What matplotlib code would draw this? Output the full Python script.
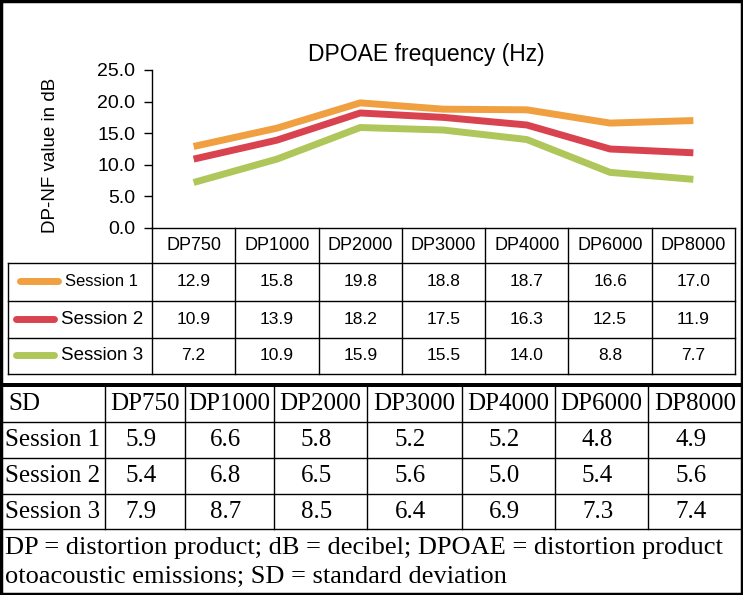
import numpy as np
import matplotlib
matplotlib.use('Agg')
import matplotlib.pyplot as plt

# frequencies and mean DP-NF values (dB) per session
freqs = ['DP750', 'DP1000', 'DP2000', 'DP3000', 'DP4000', 'DP6000', 'DP8000']
sessions = ['Session 1', 'Session 2', 'Session 3']
s1_mean = [12.9, 15.8, 19.8, 18.8, 18.7, 16.6, 17.0]
s2_mean = [10.9, 13.9, 18.2, 17.5, 16.3, 12.5, 11.9]
s3_mean = [7.2, 10.9, 15.9, 15.5, 14.0, 8.8, 7.7]

# standard deviations per session
s1_sd = [5.9, 6.6, 5.8, 5.2, 5.2, 4.8, 4.9]
s2_sd = [5.4, 6.8, 6.5, 5.6, 5.0, 5.4, 5.6]
s3_sd = [7.9, 8.7, 8.5, 6.4, 6.9, 7.3, 7.4]

yticks = [0, 5, 10, 15, 20, 25]
title = 'DPOAE frequency (Hz)'
ylabel = 'DP-NF value in dB'
footnote = ['DP = distortion product; dB = decibel; DPOAE = distortion product',
            'otoacoustic emissions; SD = standard deviation']

colors = ['#f0a040', '#d9434f', '#afc75a']
means = [s1_mean, s2_mean, s3_mean]
sds = [s1_sd, s2_sd, s3_sd]

W, H = 743, 595
sans = 'Liberation Sans'
serif = 'Liberation Serif'

fig = plt.figure(figsize=(W / 100, H / 100), dpi=100)

# background axes in pixel coordinates (tables, frame)
bg = fig.add_axes([0, 0, 1, 1])
bg.set_xlim(0, W)
bg.set_ylim(H, 0)
bg.axis('off')

# ---------------- line chart ----------------
x_left, x_right = 152, 735
y_top, y_bottom = 70, 228
ax = fig.add_axes([x_left / W, 1 - y_bottom / H, (x_right - x_left) / W, (y_bottom - y_top) / H])
ax.set_facecolor('none')
x = np.arange(len(freqs))
for vals, c in zip(means, colors):
    ax.plot(x, vals, color=c, lw=5, solid_capstyle='butt')
ax.set_xlim(-0.5, len(freqs) - 0.5)
ax.set_ylim(0, 25)
ax.set_xticks([])
ax.set_yticks(yticks)
ax.set_yticklabels(['%.1f' % t for t in yticks], fontsize=14, family=sans)
ax.tick_params(axis='y', length=6, width=1, pad=6)
for s in ['top', 'right']:
    ax.spines[s].set_visible(False)
ax.spines['left'].set_linewidth(1)
ax.spines['bottom'].set_linewidth(1)

fig.text(426 / W, 1 - 54 / H, title, ha='center', va='center', fontsize=16.5, family=sans)
fig.text(51 / W, 1 - 155 / H, ylabel, ha='center', va='center', rotation=90,
         fontsize=13.5, family=sans)

# ---------------- upper data table ----------------
n = len(freqs)
col_edges = np.linspace(x_left, x_right, n + 1)
row_edges = [228, 263, 301, 338, 374]
tbl_left = 8
lw_t = 1.0
for xe in col_edges:
    bg.plot([xe, xe], [row_edges[0], row_edges[-1]], color='k', lw=lw_t)
for ye in row_edges[1:]:
    bg.plot([tbl_left, x_right], [ye, ye], color='k', lw=lw_t)
bg.plot([tbl_left, tbl_left], [row_edges[1], row_edges[-1]], color='k', lw=lw_t)

hdr_y = (row_edges[0] + row_edges[1]) / 2
for i, f in enumerate(freqs):
    cx = (col_edges[i] + col_edges[i + 1]) / 2
    bg.text(cx, hdr_y, f, ha='center', va='center', fontsize=13, family=sans)

label_sizes = [12, 13.5, 13.5]
swatch_x = [(20, 58), (16, 54), (16, 54)]
label_x = [65, 61, 61]
for r, (name, vals, c) in enumerate(zip(sessions, means, colors)):
    cy = (row_edges[r + 1] + row_edges[r + 2]) / 2
    bg.plot(swatch_x[r], [cy - 1, cy - 1], color=c, lw=5, solid_capstyle='round')
    bg.text(label_x[r], cy, name, ha='left', va='center', fontsize=label_sizes[r], family=sans)
    for i, v in enumerate(vals):
        cx = (col_edges[i] + col_edges[i + 1]) / 2
        bg.text(cx, cy, '%.1f' % v, ha='center', va='center', fontsize=12.5, family=sans)

# ---------------- lower SD table ----------------
bg.fill_between([0, W], 383, 387, color='k', lw=0)
sd_cols = [1, 105, 185, 274, 367, 462, 555, 648, 742]
sd_rows = [387, 422, 458, 494, 529]
for xe in sd_cols[1:-1]:
    bg.plot([xe, xe], [sd_rows[0], sd_rows[-1]], color='k', lw=lw_t)
for ye in sd_rows[1:]:
    bg.plot([0, W], [ye, ye], color='k', lw=lw_t)

fs = 18
hdr_y = (sd_rows[0] + sd_rows[1]) / 2
bg.text(8, hdr_y, 'SD', ha='left', va='center', fontsize=fs, family=serif)
for i, f in enumerate(freqs):
    cx = (sd_cols[i + 1] + sd_cols[i + 2]) / 2
    bg.text(cx, hdr_y, f, ha='center', va='center', fontsize=fs, family=serif)
for r, (name, vals) in enumerate(zip(sessions, sds)):
    cy = (sd_rows[r + 1] + sd_rows[r + 2]) / 2
    bg.text(5, cy, name, ha='left', va='center', fontsize=fs, family=serif)
    for i, v in enumerate(vals):
        cx = (sd_cols[i + 1] + sd_cols[i + 2]) / 2 - 4
        bg.text(cx, cy, '%.1f' % v, ha='center', va='center', fontsize=fs, family=serif)

for k, line in enumerate(footnote):
    bg.text(5, 548 + 29 * k, line, ha='left', va='center', fontsize=19, family=serif)

# outer frame
bg.plot([1, W - 1, W - 1, 1, 1], [1, 1, H - 1, H - 1, 1], color='k', lw=2.5)

fig.savefig('out.png', dpi=100)
